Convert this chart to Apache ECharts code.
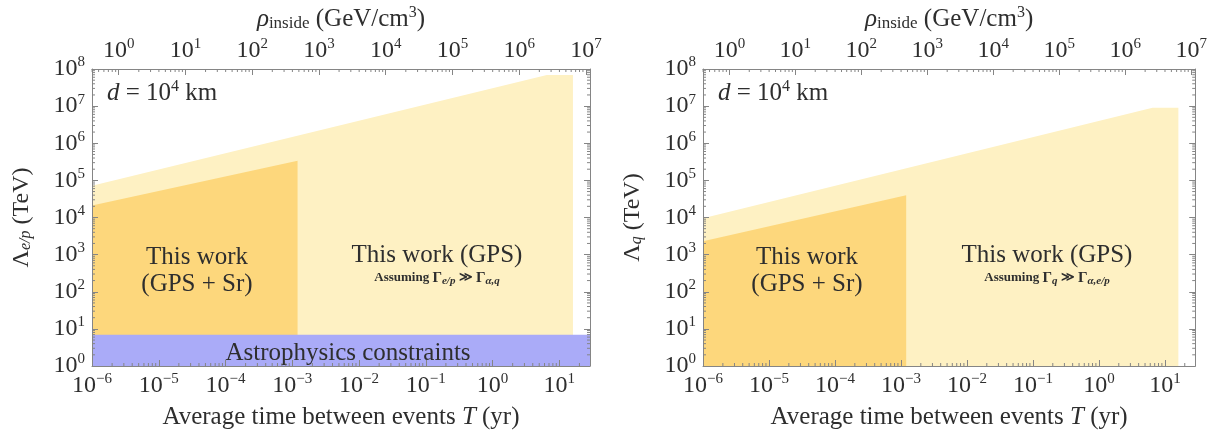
<!DOCTYPE html>
<html><head><meta charset="utf-8">
<script src="https://cdn.jsdelivr.net/npm/echarts@6/dist/echarts.min.js"></script>
<style>html,body{margin:0;padding:0;background:#fff}#c{width:1210px;height:435px}</style>
</head><body><div id="c"></div>
<script>
// ---- data ----
const tLight = [1e-6, 6.5, 16, 16];          // T (yr) for GPS-only region outline
const lightEP = [7.2e4, 6.9e7, 6.9e7, 1];    // Lambda_e/p (TeV), GPS only
const lightQ  = [9.5e3, 9.0e6, 9.0e6, 1];    // Lambda_q (TeV), GPS only
const tDark = [1e-6, 1.2e-3, 1.2e-3];        // T (yr) for GPS + Sr region outline
const darkEP = [2.1e4, 3.4e5, 1];            // Lambda_e/p (TeV), GPS + Sr
const darkQ  = [2.3e3, 4.0e4, 1];            // Lambda_q (TeV), GPS + Sr
const tAstro = [1e-6, 28.8];                 // astrophysics band extent
const astroEP = [7, 7];                      // astrophysics constraint level (TeV)

const T_MIN = 1e-6, T_MAX = 28.8;
const RHO_MIN = Math.pow(10, -0.4), RHO_MAX = Math.pow(10, 7.06);
const Y_MIN = 1, Y_MAX = 1e8;

// ---- styling ----
const F = "'Liberation Serif', 'DejaVu Serif', serif";
const TXT = '#2e2e2e';
const FRAME = '#858585';
const C_LIGHT = '#fef1c3';
const C_DARK = '#fdd77c';
const C_BLUE = '#aaabf8';

const tickRich = {
  b: {fontSize: 24, fontFamily: F, color: TXT},
  s: {fontSize: 15, fontFamily: F, color: TXT, padding: [0, 0, 13, 0]}
};
function powLabel(v) {
  const l = Math.log10(v), n = Math.round(l);
  if (Math.abs(l - n) > 1e-3) return '';
  return '{b|10}{s|' + (n < 0 ? '\u2212' + (-n) : String(n)) + '}';
}

const grids = [
  {left: 92, right: 620, top: 69, bottom: 65},
  {left: 703, right: 10, top: 69, bottom: 65}
];

const xAxes = [], yAxes = [], series = [];
grids.forEach((g, gi) => {
  xAxes.push({
    type: 'log', logBase: 10, gridIndex: gi, position: 'bottom', min: T_MIN, max: T_MAX, z: 10,
    axisLine: {show: true, lineStyle: {color: FRAME, width: 1}},
    axisTick: {show: true, inside: true, length: 6, lineStyle: {color: FRAME}},
    axisLabel: {formatter: powLabel, rich: tickRich, margin: 6, showMaxLabel: false},
    splitLine: {show: false},
    name: 'Average time between events {it|T} (yr)', nameLocation: 'middle', nameGap: 39,
    nameTextStyle: {fontSize: 25, fontFamily: F, color: TXT,
      rich: {it: {fontSize: 25, fontFamily: F, fontStyle: 'italic', color: TXT}}}
  });
  xAxes.push({
    type: 'log', logBase: 10, gridIndex: gi, position: 'top', min: RHO_MIN, max: RHO_MAX, z: 10,
    axisLine: {show: true, lineStyle: {color: FRAME, width: 1}},
    axisTick: {show: true, inside: true, length: 6, lineStyle: {color: FRAME}},
    axisLabel: {formatter: powLabel, rich: tickRich, margin: 4, showMinLabel: false, showMaxLabel: false},
    splitLine: {show: false},
    name: '{g|\u03C1}{sub|inside}{t| (GeV/cm}{sup|3}{t|)}', nameLocation: 'middle', nameGap: 36,
    nameTextStyle: {rich: {
      g: {fontSize: 25, fontFamily: F, fontStyle: 'italic', color: TXT},
      t: {fontSize: 25, fontFamily: F, color: TXT},
      sub: {fontSize: 17, fontFamily: F, color: TXT, padding: [9, 0, 0, 0]},
      sup: {fontSize: 16, fontFamily: F, color: TXT, padding: [0, 0, 12, 0]}
    }}
  });
  yAxes.push({
    type: 'log', logBase: 10, gridIndex: gi, position: 'left', min: Y_MIN, max: Y_MAX, z: 10,
    axisLine: {show: true, lineStyle: {color: FRAME, width: 1}},
    axisTick: {show: true, inside: true, length: 6, lineStyle: {color: FRAME}},
    axisLabel: {formatter: powLabel, rich: tickRich, margin: 7},
    splitLine: {show: false},
    name: gi === 0 ? '{g|\u039B}{sub|e/p}{t| (TeV)}' : '{g|\u039B}{sub|q}{t| (TeV)}',
    nameLocation: 'middle', nameGap: 58, nameRotate: 90,
    nameTextStyle: {rich: {
      g: {fontSize: 24, fontFamily: F, color: TXT},
      t: {fontSize: 24, fontFamily: F, color: TXT},
      sub: {fontSize: 16, fontFamily: F, fontStyle: 'italic', color: TXT, padding: [9, 0, 0, 0]}
    }}
  });
  yAxes.push({
    type: 'log', logBase: 10, gridIndex: gi, position: 'right', min: Y_MIN, max: Y_MAX, z: 10,
    axisLine: {show: true, lineStyle: {color: FRAME, width: 1}},
    axisTick: {show: true, inside: true, length: 6, lineStyle: {color: FRAME}},
    axisLabel: {show: false}, splitLine: {show: false}
  });

  const xb = gi * 2, xt = gi * 2 + 1, yl = gi * 2;
  const area = (xs, ys, color, z) => ({
    type: 'line', xAxisIndex: xb, yAxisIndex: yl, silent: true, z: z,
    data: xs.map((x, i) => [x, ys[i]]), symbol: 'none',
    lineStyle: {width: 0}, areaStyle: {color: color, opacity: 1, origin: 'start'}
  });
  series.push(area(tLight, gi === 0 ? lightEP : lightQ, C_LIGHT, 1));
  series.push(area(tDark, gi === 0 ? darkEP : darkQ, C_DARK, 2));
  if (gi === 0) series.push(area(tAstro, astroEP, C_BLUE, 3));

  // minor ticks (2..9 per decade) on bottom, left, right
  series.push({
    type: 'custom', xAxisIndex: xb, yAxisIndex: yl, silent: true, z: 20, clip: false,
    data: [[T_MIN, Y_MIN]],
    renderItem: function (params, api) {
      const ch = [];
      const ls = {stroke: FRAME, lineWidth: 1};
      for (let e = -7; e <= 2; e++) for (let k = 2; k <= 9; k++) {
        const v = k * Math.pow(10, e);
        if (v <= T_MIN || v >= T_MAX) continue;
        const p = api.coord([v, Y_MIN]);
        ch.push({type: 'line', shape: {x1: p[0], y1: p[1], x2: p[0], y2: p[1] - 3}, style: ls});
      }
      for (let e = 0; e <= 8; e++) for (let k = 2; k <= 9; k++) {
        const v = k * Math.pow(10, e);
        if (v >= Y_MAX) continue;
        const a = api.coord([T_MIN, v]), b = api.coord([T_MAX, v]);
        ch.push({type: 'line', shape: {x1: a[0], y1: a[1], x2: a[0] + 3, y2: a[1]}, style: ls});
        ch.push({type: 'line', shape: {x1: b[0], y1: b[1], x2: b[0] - 3, y2: b[1]}, style: ls});
      }
      return {type: 'group', children: ch};
    }
  });
  // minor ticks on top (rho axis)
  series.push({
    type: 'custom', xAxisIndex: xt, yAxisIndex: yl, silent: true, z: 20, clip: false,
    data: [[1, Y_MAX]],
    renderItem: function (params, api) {
      const ch = [];
      for (let e = -1; e <= 7; e++) for (let k = 2; k <= 9; k++) {
        const v = k * Math.pow(10, e);
        if (v <= RHO_MIN || v >= RHO_MAX) continue;
        const p = api.coord([v, Y_MAX]);
        ch.push({type: 'line', shape: {x1: p[0], y1: p[1], x2: p[0], y2: p[1] + 3},
          style: {stroke: FRAME, lineWidth: 1}});
      }
      return {type: 'group', children: ch};
    }
  });
});

const big = {fontSize: 25, fontFamily: F, fill: TXT};
function label(x, y, text, rich, extra) {
  return Object.assign({type: 'text', x: x, y: y, z: 30, silent: true,
    style: Object.assign({text: text, align: 'center', verticalAlign: 'middle', rich: rich || {}}, big, extra || {})});
}
const dRich = {
  i: {fontSize: 25, fontFamily: F, fontStyle: 'italic', fill: TXT},
  t: {fontSize: 25, fontFamily: F, fill: TXT},
  s: {fontSize: 16, fontFamily: F, fill: TXT, padding: [0, 0, 12, 0]}
};
const smallRich = {
  t: {fontSize: 13, fontFamily: F, fontWeight: 'bold', fill: TXT},
  g: {fontSize: 15, fontFamily: F, fontWeight: 'bold', fill: TXT},
  sub: {fontSize: 11, fontFamily: F, fontWeight: 'bold', fontStyle: 'italic', fill: TXT, padding: [7, 0, 0, 0]}
};
const graphic = [];
[[0, 92, 197, 437, 'e/p', '\u03B1,q'], [1, 703, 807, 1047, 'q', '\u03B1,e/p']].forEach(r => {
  graphic.push(label(r[1] + 15, 93, '{i|d}{t| = 10}{s|4}{t| km}', dRich, {align: 'left'}));
  graphic.push(label(r[2], 257, 'This work'));
  graphic.push(label(r[2], 284, '(GPS + Sr)'));
  graphic.push(label(r[3], 255, 'This work (GPS)'));
  graphic.push(label(r[3], 278, '{t|Assuming }{g|\u0393}{sub|' + r[4] + '}{t| \u226B }{g|\u0393}{sub|' + r[5] + '}', smallRich));
});
graphic.push(label(348, 353, 'Astrophysics constraints'));

const chart = echarts.init(document.getElementById('c'), null, {renderer: 'canvas'});
chart.setOption({
  animation: false,
  backgroundColor: '#fff',
  grid: grids,
  xAxis: xAxes,
  yAxis: yAxes,
  series: series,
  graphic: graphic
});
</script>
</body></html>
